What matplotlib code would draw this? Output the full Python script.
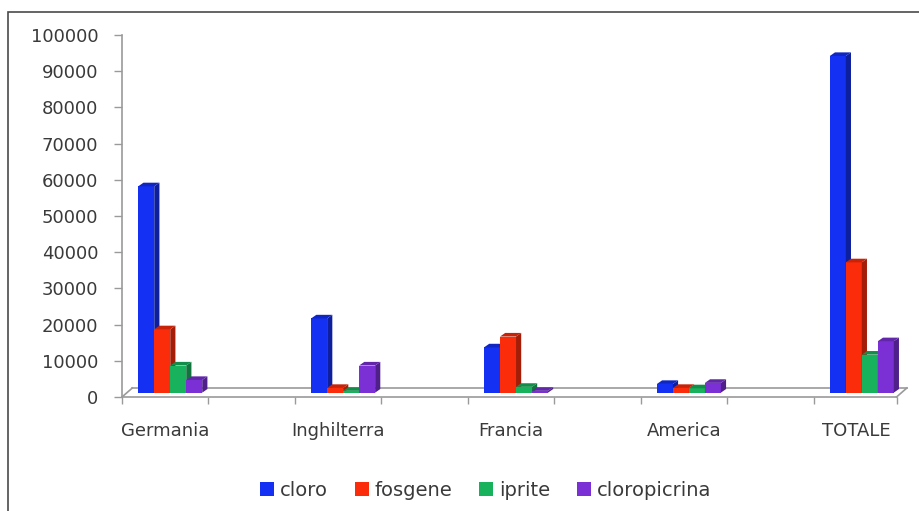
import matplotlib.pyplot as plt
from matplotlib.patches import Polygon, Patch, Rectangle
import matplotlib.colors as mcolors

paesi = ['Germania', 'Inghilterra', 'Francia', 'America', 'TOTALE']
cloro = [57000, 20500, 12500, 2400, 93000]
fosgene = [17500, 1300, 15500, 1300, 36000]
iprite = [7500, 500, 1600, 1200, 10500]
cloropicrina = [3500, 7500, 500, 2700, 14200]

serie = ['cloro', 'fosgene', 'iprite', 'cloropicrina']
valori = [cloro, fosgene, iprite, cloropicrina]
colori = ['#1430f2', '#fa2c0a', '#18b25c', '#7a30d4']

plt.rcParams['font.family'] = 'DejaVu Sans'
testo = '#3a3a3a'
grigio = '#9a9a9a'

fig = plt.figure(figsize=(9.2, 5.11), dpi=100)
ax = fig.add_axes([122 / 920, 1 - 397 / 511, 778 / 920, 362 / 511])

# depth of the 3d look (floor and bars), in data units
fdx, fdy = 0.06, 2500
bdx, bdy = 0.03, 1000
base = 1200
w = 0.0925

def shade(c, f):
    r, g, b = mcolors.to_rgb(c)
    return (r * f, g * f, b * f)

z = 3
for i in range(len(paesi)):
    for k in range(len(serie)):
        x0 = i + 0.029 + (k - 2) * w
        h = valori[k][i]
        top = base + h
        ax.bar(x0, h, width=w, bottom=base, align='edge', color=colori[k],
               linewidth=0, zorder=z)
        side = Polygon([(x0 + w, base), (x0 + w + bdx, base + bdy),
                        (x0 + w + bdx, top + bdy), (x0 + w, top)],
                       closed=True, facecolor=shade(colori[k], 0.65),
                       linewidth=0, zorder=z, clip_on=False)
        cap = Polygon([(x0, top), (x0 + bdx, top + bdy),
                       (x0 + w + bdx, top + bdy), (x0 + w, top)],
                      closed=True, facecolor=shade(colori[k], 0.8),
                      linewidth=0, zorder=z, clip_on=False)
        ax.add_patch(side)
        ax.add_patch(cap)
        z += 1

x_l, x_r = -0.25, 4.23
ax.set_xlim(-0.25, 4.25)
ax.set_ylim(0, 100000)

# floor outline
ax.plot([x_l, x_r], [0, 0], color=grigio, lw=1.2, clip_on=False, zorder=2)
ax.plot([x_l + fdx, x_r + fdx], [fdy, fdy], color=grigio, lw=1.2,
        clip_on=False, zorder=2)
ax.plot([x_l, x_l + fdx], [0, fdy], color=grigio, lw=1.2, clip_on=False, zorder=2)
ax.plot([x_r, x_r + fdx], [0, fdy], color=grigio, lw=1.2, clip_on=False, zorder=2)

for s in ['top', 'right', 'bottom']:
    ax.spines[s].set_visible(False)
ax.spines['left'].set_color(grigio)
ax.spines['left'].set_linewidth(1.2)

ax.set_yticks(range(0, 100001, 10000))
ax.tick_params(axis='y', length=6, width=1, color=grigio, pad=11,
               labelsize=13, labelcolor=testo)
ax.set_xticks(range(len(paesi)))
ax.set_xticklabels(paesi)
ax.set_xticks([x_l + 0.5 * j for j in range(9)] + [x_r], minor=True)
ax.tick_params(axis='x', which='major', length=0, pad=18, labelsize=13,
               labelcolor=testo)
ax.tick_params(axis='x', which='minor', length=5, width=1, color=grigio)

handles = [Patch(facecolor=c, edgecolor='none') for c in colori]
fig.legend(handles, serie, loc='center', bbox_to_anchor=(0.528, 0.041),
           ncol=4, frameon=False, fontsize=14, handlelength=0.7,
           handleheight=0.7, handletextpad=0.3, columnspacing=1.4,
           labelcolor=testo)

# outer frame, open on the right and bottom
fig.patches.append(Rectangle((8 / 920, -0.02), 1.0, 1 - 12.5 / 511 + 0.02,
                             transform=fig.transFigure, fill=False,
                             edgecolor='#4a4a4a', linewidth=1.2))

fig.savefig('out.png', dpi=100)
